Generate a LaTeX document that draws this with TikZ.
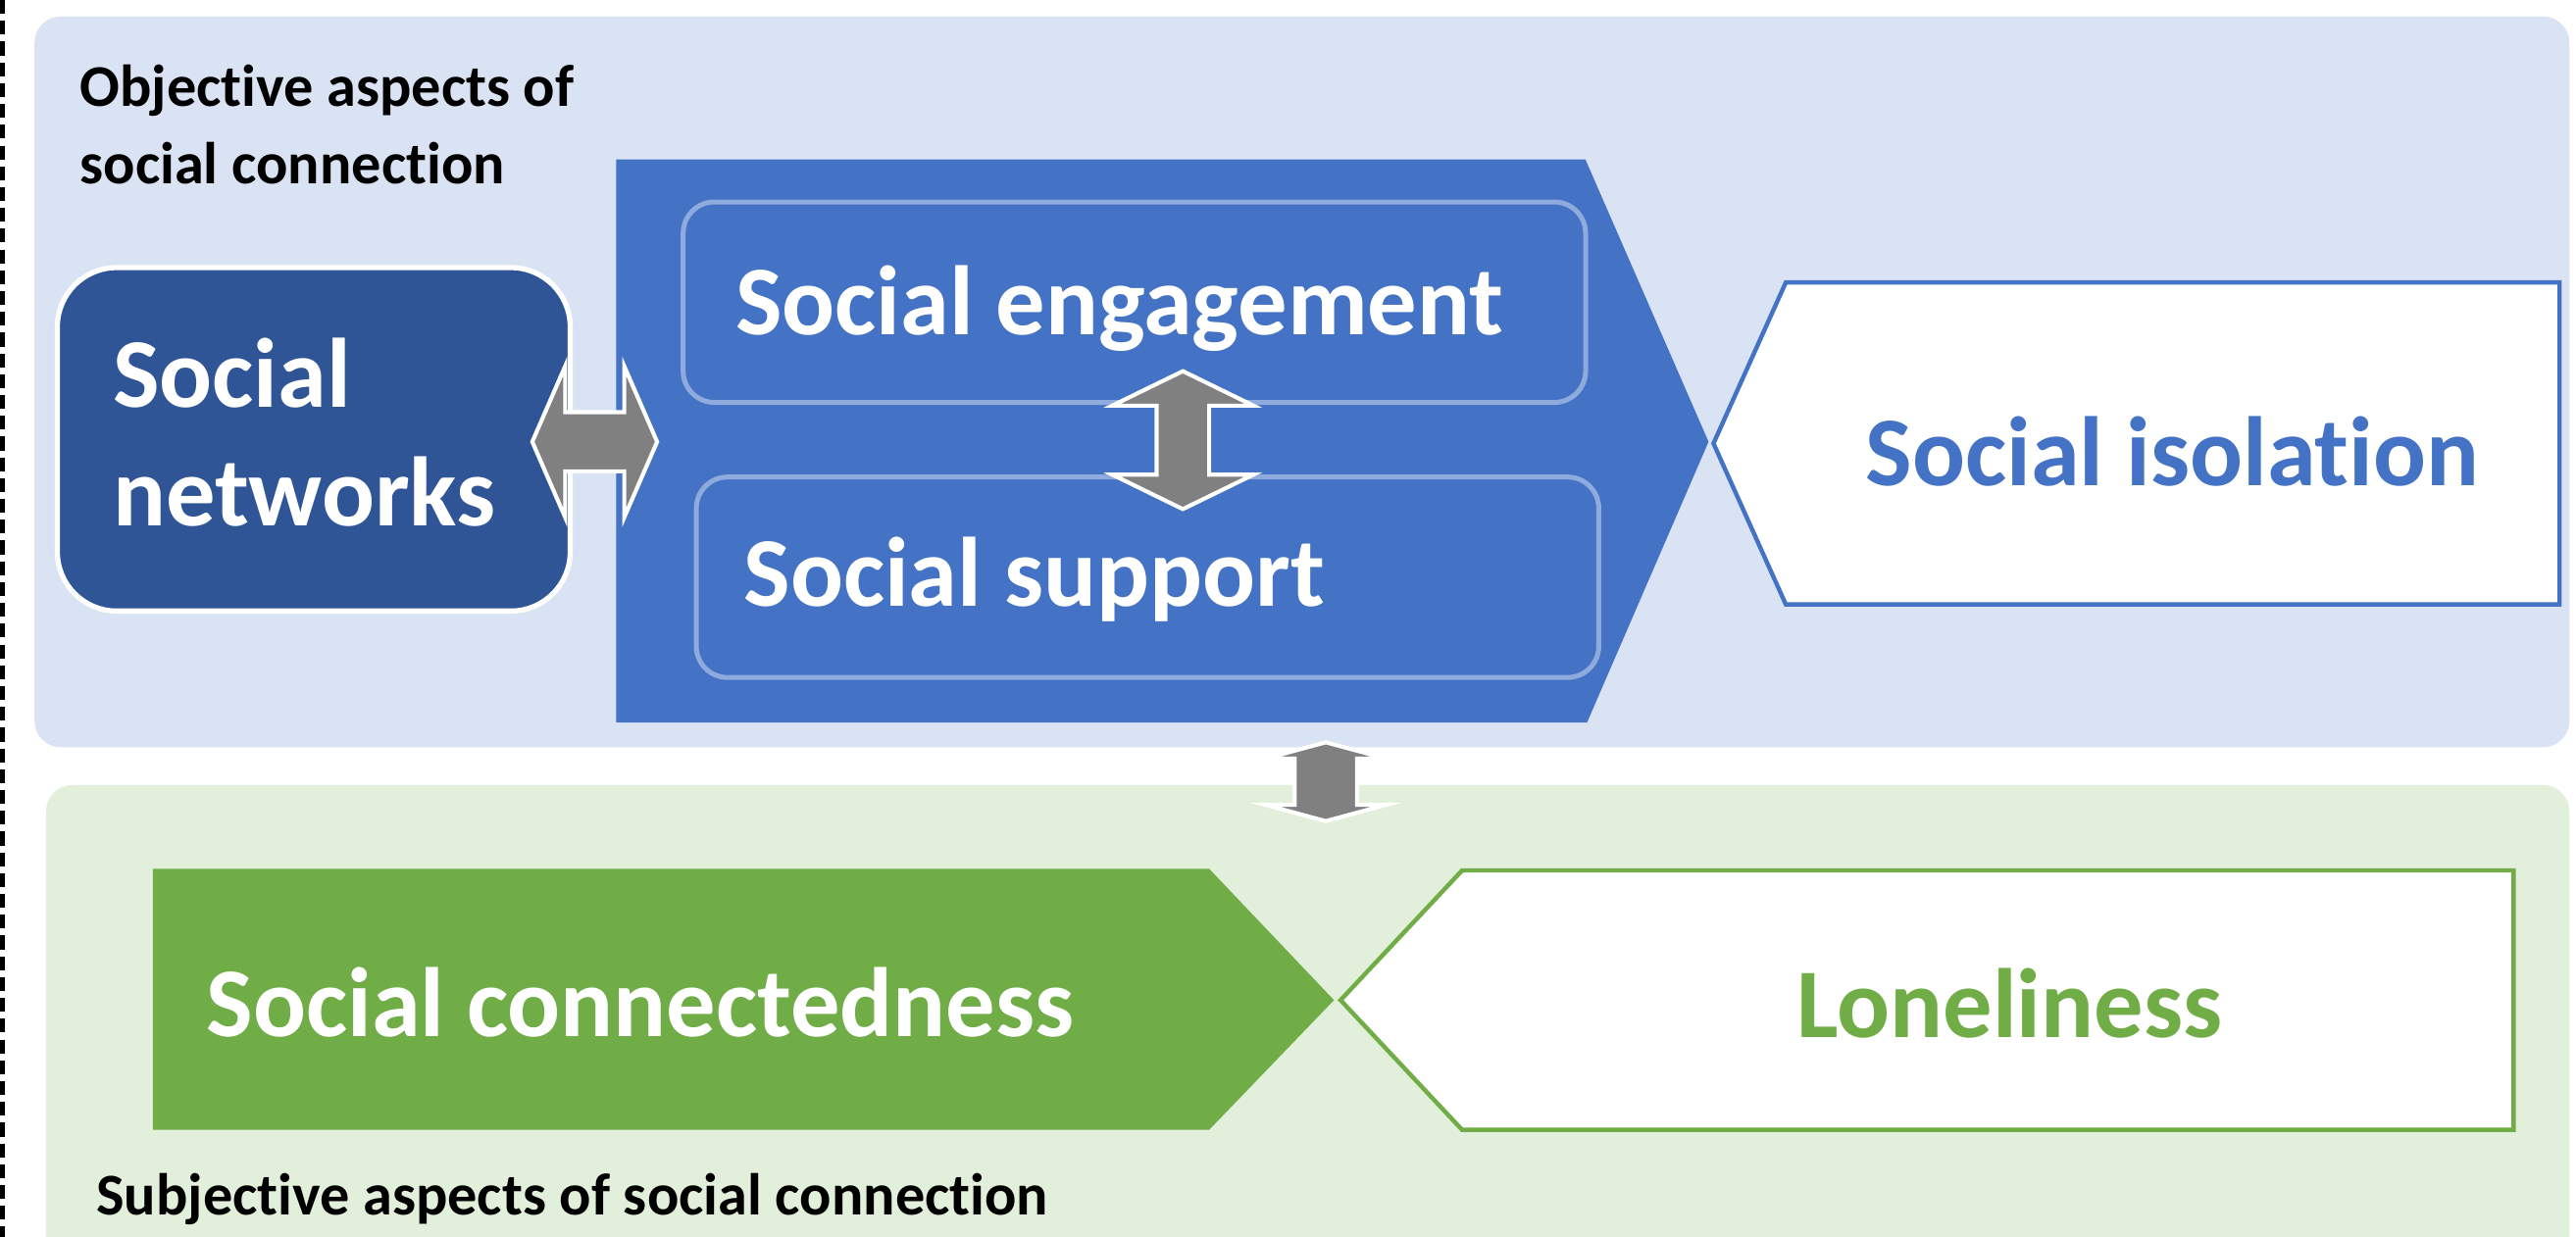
\documentclass[tikz,border=0pt]{standalone}
\usepackage{fontspec}
\setmainfont[Ligatures={NoCommon}]{Carlito}
\definecolor{panelblue}{HTML}{DAE3F3}
\definecolor{panelgreen}{HTML}{E2EFDA}
\definecolor{darkblue}{HTML}{2F5597}
\definecolor{midblue}{HTML}{4472C4}
\definecolor{lineblue}{HTML}{8FAADC}
\definecolor{arrowgray}{HTML}{808080}
\definecolor{leafgreen}{HTML}{70AD47}
% vertical double block arrow: cx, cy, half length, head length, shaft half width, head half width
\newcommand{\vdblarrow}[6]{%
  \filldraw[blockarrow] ({#1},{#2-#3}) -- ({#1+#6},{#2-#3+#4}) -- ({#1+#5},{#2-#3+#4})
    -- ({#1+#5},{#2+#3-#4}) -- ({#1+#6},{#2+#3-#4}) -- ({#1},{#2+#3})
    -- ({#1-#6},{#2+#3-#4}) -- ({#1-#5},{#2+#3-#4}) -- ({#1-#5},{#2-#3+#4})
    -- ({#1-#6},{#2-#3+#4}) -- cycle;}
% horizontal double block arrow
\newcommand{\hdblarrow}[6]{%
  \filldraw[blockarrow] ({#1-#3},{#2}) -- ({#1-#3+#4},{#2-#6}) -- ({#1-#3+#4},{#2-#5})
    -- ({#1+#3-#4},{#2-#5}) -- ({#1+#3-#4},{#2-#6}) -- ({#1+#3},{#2})
    -- ({#1+#3-#4},{#2+#6}) -- ({#1+#3-#4},{#2+#5}) -- ({#1-#3+#4},{#2+#5})
    -- ({#1-#3+#4},{#2+#6}) -- cycle;}
\begin{document}
\begin{tikzpicture}[x=0.01cm,y=-0.01cm,
  blockarrow/.style={fill=arrowgray, draw=white, line width=0.7pt, line join=miter},
  bigtext/.style={font=\fontsize{17.07pt}{20.5pt}\selectfont\bfseries, inner sep=0pt, anchor=base west},
  smalltext/.style={font=\fontsize{10.24pt}{13.4pt}\selectfont\bfseries, inner sep=0pt, anchor=base west, text=black},
  netbox/.style={draw=white, line width=0.9pt, fill=darkblue, rounded corners=0.36cm, inner sep=0pt,
    minimum width=3.12cm, minimum height=2.09cm},
  innerbox/.style={draw=lineblue, line width=0.85pt, rounded corners=0.19cm, inner sep=0pt,
    minimum width=5.49cm, minimum height=1.22cm},
  outline/.style={line width=0.75pt, fill=white, line join=miter}]
\useasboundingbox (0,0) rectangle (1568,753);
\clip (0,0) rectangle (1568,753);
% panels
\fill[panelblue, rounded corners=0.16cm] (21,10) rectangle (1564,455);
\fill[panelgreen, rounded corners=0.16cm] (28,478) rectangle (1564,800);
% dashed border line
\draw[black, line width=0.9pt, dash pattern=on 2.4pt off 1.2pt] (1.6,0) -- (1.6,753);
% social networks
\node[netbox] (net) at (191,267.5) {};
% objective pentagon
\fill[midblue] (375,97) -- (965,97) -- (1040,269) -- (966,440) -- (375,440) -- cycle;
\node[innerbox] (eng) at (690.5,184) {};
\node[innerbox] (sup) at (698.5,351.5) {};
% social isolation
\draw[midblue, outline] (1087,172) -- (1558,172) -- (1558,368) -- (1087,368) -- (1043,270) -- cycle;
% subjective pentagon
\fill[leafgreen] (93,529) -- (736,529) -- (812,609) -- (736,688) -- (93,688) -- cycle;
\draw[leafgreen, outline] (890,530) -- (1530,530) -- (1530,688) -- (890,688) -- (816,609) -- cycle;
% arrows
\hdblarrow{362}{269}{38}{20}{18}{46}
\vdblarrow{720}{268}{42}{21}{16}{43}
\vdblarrow{807}{476}{24}{10}{19}{37}
% texts
\node[smalltext] (obj1) at (48,65) {Objective aspects of};
\node[smalltext] (obj2) at (48,112) {social connection};
\node[bigtext, text=white] (net1) at (68,248) {Social};
\node[bigtext, text=white] (net2) at (68,320) {networks};
\node[bigtext, text=white] (engt) at (447,204) {Social engagement};
\node[bigtext, text=white] (supt) at (452,369) {Social support};
\node[bigtext, text=midblue] (isot) at (1135,296) {Social isolation};
\node[bigtext, text=white] (cont) at (125,631) {Social connectedness};
\node[bigtext, text=leafgreen] (lont) at (1093,632) {Loneliness};
\node[smalltext] (subj) at (58,740) {Subjective aspects of social connection};
\end{tikzpicture}
\end{document}
